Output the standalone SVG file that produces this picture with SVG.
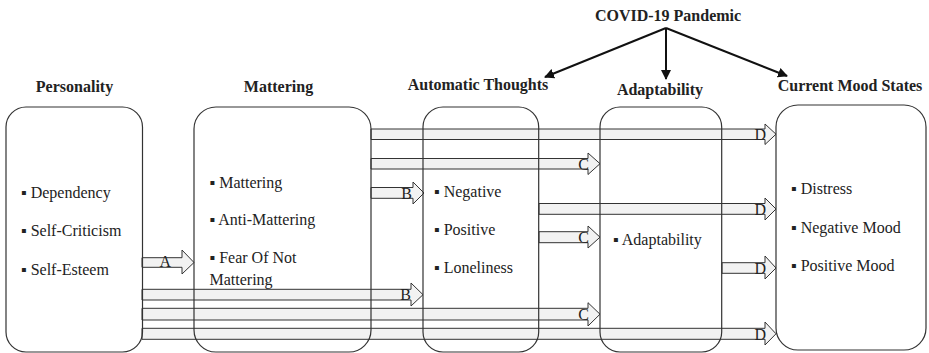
<svg xmlns="http://www.w3.org/2000/svg" width="929" height="353" viewBox="0 0 929 353">
<style>
text{font-family:'Liberation Serif','DejaVu Serif','Times New Roman',serif}
.box{fill:none;stroke:#333;stroke-width:1.2}
.hdr{font-size:16px;font-weight:bold;fill:#222;text-anchor:middle}
.txt{font-size:16px;fill:#222}
.blk{fill:#f2f2f2;stroke:#333;stroke-width:1}
.lbl{font-size:16px;fill:#222;text-anchor:end}
.ln{stroke:#111;stroke-width:2;fill:none}
</style>
<defs>
<marker id="ah" viewBox="0 0 10 10" refX="9" refY="5" markerWidth="5" markerHeight="5" orient="auto" markerUnits="strokeWidth">
<path d="M0,0 L10,5 L0,10 z" fill="#111"/>
</marker>
</defs>
<rect width="929" height="353" fill="#fff"/>
<g id="connectors">
<polygon class="blk" points="371,129 765,129 765,124 776,134.2 765,144.5 765,139.5 371,139.5"/>
<text class="lbl" x="766" y="140">D</text>
<polygon class="blk" points="371,158.5 588,158.5 588,153 600,163.7 588,174.5 588,169 371,169"/>
<text class="lbl" x="589" y="170">C</text>
<polygon class="blk" points="371,187.5 413,187.5 413,182 424,193 413,204 413,198.3 371,198.3"/>
<text class="lbl" x="412" y="199">B</text>
<polygon class="blk" points="539,203.5 765,203.5 765,198 776,209 765,220 765,214.3 539,214.3"/>
<text class="lbl" x="766" y="215">D</text>
<polygon class="blk" points="539,231.7 588,231.7 588,226 600,237.2 588,248 588,242.7 539,242.7"/>
<text class="lbl" x="589" y="243">C</text>
<polygon class="blk" points="142,257.7 182,257.7 182,250 194,262.5 182,274 182,267.3 142,267.3"/>
<text class="lbl" x="171" y="267">A</text>
<polygon class="blk" points="722,262.7 765,262.7 765,256 776,268 765,279 765,273.3 722,273.3"/>
<text class="lbl" x="766" y="274">D</text>
<polygon class="blk" points="142,289.3 411,289.3 411,283 423,294.7 411,306 411,300 142,300"/>
<text class="lbl" x="411" y="300">B</text>
<polygon class="blk" points="142,308.3 588,308.3 588,302.7 600,314.2 588,326 588,320 142,320"/>
<text class="lbl" x="589" y="320">C</text>
<polygon class="blk" points="142,328.3 765,328.3 765,322 776,333.8 765,345 765,339.3 142,339.3"/>
<text class="lbl" x="766" y="339.5">D</text>
<line class="ln" x1="666" y1="28" x2="545" y2="77" marker-end="url(#ah)"/>
<line class="ln" x1="666" y1="28" x2="666" y2="79" marker-end="url(#ah)"/>
<line class="ln" x1="666" y1="28" x2="787" y2="76" marker-end="url(#ah)"/>
</g>
<g id="covid">
<text class="hdr" x="668" y="21">COVID-19 Pandemic</text>
</g>
<g id="personality">
<text class="hdr" x="74.5" y="92">Personality</text>
<rect class="box" x="6" y="107" width="136.5" height="245" rx="20" ry="20"/>
<text class="txt" x="21" y="198">▪ Dependency</text>
<text class="txt" x="21" y="236">▪ Self-Criticism</text>
<text class="txt" x="21" y="275">▪ Self-Esteem</text>
</g>
<g id="mattering">
<text class="hdr" x="278.5" y="92">Mattering</text>
<rect class="box" x="194" y="107" width="177" height="245" rx="22" ry="22"/>
<text class="txt" x="209.5" y="188">▪ Mattering</text>
<text class="txt" x="209.5" y="225">▪ Anti-Mattering</text>
<text class="txt" x="209.5" y="263">▪ Fear Of Not</text>
<text class="txt" x="209.5" y="285">Mattering</text>
</g>
<g id="automatic">
<text class="hdr" x="478" y="90">Automatic Thoughts</text>
<rect class="box" x="423" y="107" width="115.7" height="245" rx="20" ry="20"/>
<text class="txt" x="434" y="197">▪ Negative</text>
<text class="txt" x="434" y="235">▪ Positive</text>
<text class="txt" x="434" y="273">▪ Loneliness</text>
</g>
<g id="adaptability">
<text class="hdr" x="660" y="95">Adaptability</text>
<rect class="box" x="600" y="107" width="121.7" height="245" rx="20" ry="20"/>
<text class="txt" x="613" y="245">▪ Adaptability</text>
</g>
<g id="mood">
<text class="hdr" x="850" y="91">Current Mood States</text>
<rect class="box" x="776" y="105" width="150" height="245" rx="22" ry="22"/>
<text class="txt" x="791" y="194">▪ Distress</text>
<text class="txt" x="791" y="233">▪ Negative Mood</text>
<text class="txt" x="791" y="271">▪ Positive Mood</text>
</g>
</svg>
